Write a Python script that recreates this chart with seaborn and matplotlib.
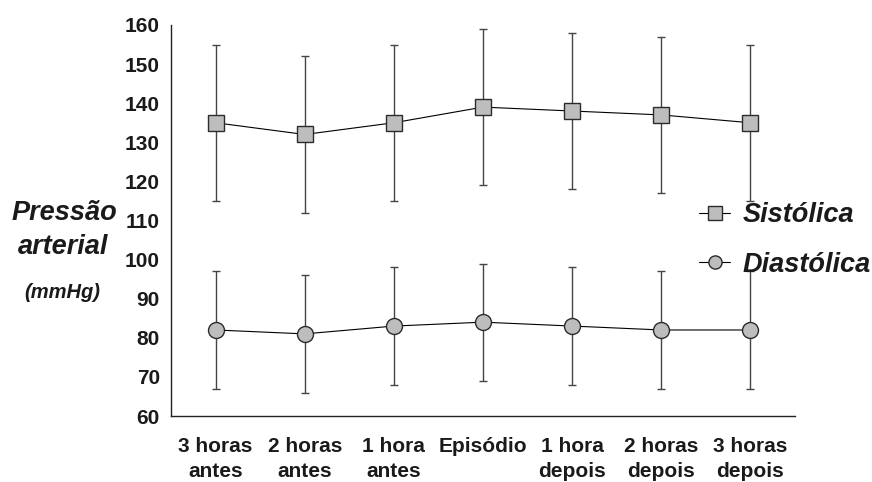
import matplotlib
matplotlib.use("Agg")
import matplotlib.pyplot as plt
import seaborn as sns
import numpy as np
import pandas as pd
from matplotlib.lines import Line2D

# Chart data
categories = ["3 horas\nantes", "2 horas\nantes", "1 hora\nantes", "Episódio",
              "1 hora\ndepois", "2 horas\ndepois", "3 horas\ndepois"]
sistolica = [135, 132, 135, 139, 138, 137, 135]
sistolica_low = [115, 112, 115, 119, 118, 117, 115]
sistolica_high = [155, 152, 155, 159, 158, 157, 155]
diastolica = [82, 81, 83, 84, 83, 82, 82]
diastolica_low = [67, 66, 68, 69, 68, 67, 67]
diastolica_high = [97, 96, 98, 99, 98, 97, 97]
y_ticks = [60, 70, 80, 90, 100, 110, 120, 130, 140, 150, 160]

sns.set_style("white")
plt.rcParams['font.family'] = ['Liberation Sans', 'DejaVu Sans']

df = pd.DataFrame({
    "momento": categories * 2,
    "valor": sistolica + diastolica,
    "serie": ["Sistólica"] * len(categories) + ["Diastólica"] * len(categories),
})

fig = plt.figure(figsize=(8.72, 4.82), dpi=100)
ax = fig.add_axes([171 / 872, 66 / 482, 624 / 872, 391 / 482])

face = "#bdbdbd"
edge = "#2b2b2b"
series = [
    ("Sistólica", "s", 11.5, sistolica, sistolica_low, sistolica_high),
    ("Diastólica", "o", 11.5, diastolica, diastolica_low, diastolica_high),
]

handles = []
for name, mk, ms, vals, lo, hi in series:
    sub = df[df["serie"] == name]
    # error bars behind the markers
    xpos = np.arange(len(categories))
    ax.errorbar(xpos, vals,
                yerr=[np.array(vals) - np.array(lo), np.array(hi) - np.array(vals)],
                fmt="none", ecolor="#444444", elinewidth=1.0, capsize=3,
                capthick=1.0, zorder=1)
    sns.pointplot(data=sub, x="momento", y="valor", order=categories,
                  errorbar=None, color="black", markers=mk, linestyles="-",
                  linewidth=0.8, markersize=ms, markerfacecolor=face,
                  markeredgecolor=edge, markeredgewidth=1.0, ax=ax, zorder=3)
    handles.append(Line2D([], [], color="black", linewidth=0.8, marker=mk,
                          markersize=9.5, markerfacecolor=face,
                          markeredgecolor=edge, markeredgewidth=1.0, label=name))

ax.set_xlim(-0.5, 6.5)
ax.set_ylim(60, 160)
ax.set_yticks(y_ticks)
ax.set_xlabel("")
ax.set_ylabel("")
sns.despine(ax=ax)
for sp in ["left", "bottom"]:
    ax.spines[sp].set_color("#222222")
    ax.spines[sp].set_linewidth(1.0)

ax.tick_params(axis="y", which="major", direction="out", length=5, width=1,
               color="#222222", labelsize=15, pad=3)
ax.tick_params(axis="x", which="major", length=0, labelsize=15, pad=15)
for lab in ax.get_yticklabels():
    lab.set_fontweight("bold")
    lab.set_color("#1a1a1a")
for lab in ax.get_xticklabels():
    lab.set_fontweight("bold")
    lab.set_color("#1a1a1a")
    lab.set_linespacing(1.4)

leg = fig.legend(handles=handles, loc="center left",
                 bbox_to_anchor=(699 / 872, 1 - 240 / 482), frameon=False,
                 borderaxespad=0, borderpad=0,
                 handlelength=1.15, handletextpad=0.45, labelspacing=0.85,
                 prop={"size": 19.5, "weight": "bold", "style": "italic"})
for t in leg.get_texts():
    t.set_color("#1a1a1a")

fig.text(64 / 872, 1 - 213 / 482, "Pressão", ha="center", va="center",
         fontsize=19.5, fontweight="bold", fontstyle="italic", color="#1a1a1a")
fig.text(63 / 872, 1 - 247 / 482, "arterial", ha="center", va="center",
         fontsize=19.5, fontweight="bold", fontstyle="italic", color="#1a1a1a")
fig.text(62 / 872, 1 - 292 / 482, "(mmHg)", ha="center", va="center",
         fontsize=14.5, fontweight="bold", fontstyle="italic", color="#1a1a1a")

fig.savefig("out.png", dpi=100)
